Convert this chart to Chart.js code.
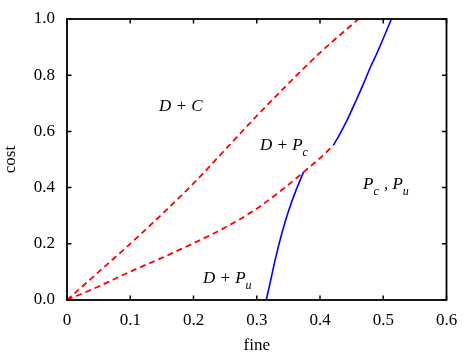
<!DOCTYPE html>
<html>
<head>
<meta charset="utf-8">
<script src="https://cdn.jsdelivr.net/npm/chart.js@4.4.1/dist/chart.umd.min.js"></script>
<style>
  html, body { margin: 0; padding: 0; background: #fff; }
  #wrap { width: 463px; height: 358px; }
</style>
</head>
<body>
<div id="wrap"><canvas id="chart" width="463" height="358"></canvas></div>
<script>
// region boundaries (fine, cost)
const upperFine = [0, 0.05, 0.1, 0.15, 0.2, 0.25, 0.3, 0.35, 0.4, 0.461];
const upperCost = [0, 0.1, 0.2, 0.305, 0.415, 0.535, 0.655, 0.77, 0.88, 1.0];

const lowerFine = [0, 0.05, 0.1, 0.15, 0.2, 0.25, 0.3, 0.35, 0.374, 0.4, 0.421];
const lowerCost = [0, 0.048, 0.101, 0.15, 0.202, 0.258, 0.325, 0.41, 0.455, 0.505, 0.55];

const blueLowFine = [0.315, 0.322, 0.329, 0.34, 0.35, 0.362, 0.374];
const blueLowCost = [0, 0.07, 0.142, 0.24, 0.315, 0.39, 0.455];

const blueHighFine = [0.421, 0.43, 0.443, 0.457, 0.469, 0.48, 0.49, 0.513];
const blueHighCost = [0.55, 0.585, 0.641, 0.71, 0.771, 0.83, 0.878, 1.0];

const xTicks = [0, 0.1, 0.2, 0.3, 0.4, 0.5, 0.6];
const yTicks = [0, 0.2, 0.4, 0.6, 0.8, 1.0];

// region names, anchored at (fine, cost) of the left baseline
const regionLabels = [
  { fine: 0.1456, cost: 0.673, parts: [['D + C', false]] },
  { fine: 0.305, cost: 0.534, parts: [['D + P', false], ['c', true]] },
  { fine: 0.468, cost: 0.395, parts: [['P', false], ['c', true], [' , P', false], ['u', true]] },
  { fine: 0.215, cost: 0.0605, parts: [['D + P', false], ['u', true]] }
];

const serif = "'Liberation Serif', 'DejaVu Serif', serif";

function toPoints(xs, ys) {
  return xs.map((x, i) => ({ x: x, y: ys[i] }));
}

function lineSet(xs, ys, color, dashed) {
  return {
    data: toPoints(xs, ys),
    showLine: true,
    borderColor: color,
    borderWidth: dashed ? 1.8 : 1.6,
    borderDash: dashed ? [6, 4] : [],
    pointRadius: 0,
    fill: false,
    cubicInterpolationMode: 'monotone'
  };
}

// frame with inward ticks, like the original plot
const framePlugin = {
  id: 'frame',
  afterDatasetsDraw(chart) {
    const ctx = chart.ctx;
    const a = chart.chartArea;
    const xs = chart.scales.x;
    const ys = chart.scales.y;
    ctx.save();
    ctx.strokeStyle = '#000';
    ctx.lineWidth = 1.5;
    ctx.beginPath();
    xTicks.forEach(v => {
      const px = xs.getPixelForValue(v);
      ctx.moveTo(px, a.bottom); ctx.lineTo(px, a.bottom - 4.5);
      ctx.moveTo(px, a.top); ctx.lineTo(px, a.top + 4.5);
    });
    yTicks.forEach(v => {
      const py = ys.getPixelForValue(v);
      ctx.moveTo(a.left, py); ctx.lineTo(a.left + 4.5, py);
      ctx.moveTo(a.right, py); ctx.lineTo(a.right - 4.5, py);
    });
    ctx.stroke();
    ctx.lineWidth = 1.8;
    ctx.strokeRect(a.left, a.top, a.right - a.left, a.bottom - a.top);
    ctx.restore();
  }
};

const labelPlugin = {
  id: 'regionLabels',
  afterDatasetsDraw(chart) {
    const ctx = chart.ctx;
    const xs = chart.scales.x;
    const ys = chart.scales.y;
    ctx.save();
    ctx.fillStyle = '#000';
    ctx.textAlign = 'left';
    ctx.textBaseline = 'alphabetic';
    regionLabels.forEach(lab => {
      let px = xs.getPixelForValue(lab.fine);
      const py = ys.getPixelForValue(lab.cost);
      lab.parts.forEach(([txt, sub]) => {
        ctx.font = sub ? 'italic 12px ' + serif : 'italic 17px ' + serif;
        ctx.fillText(txt, px, sub ? py + 6 : py);
        px += ctx.measureText(txt).width + (sub ? 1 : 0);
      });
    });
    ctx.restore();
  }
};

const ctx = document.getElementById('chart').getContext('2d');
new Chart(ctx, {
  type: 'scatter',
  data: {
    datasets: [
      lineSet(upperFine, upperCost, '#ff0000', true),
      lineSet(lowerFine, lowerCost, '#ff0000', true),
      lineSet(blueLowFine, blueLowCost, '#0000ff', false),
      lineSet(blueHighFine, blueHighCost, '#0000ff', false)
    ]
  },
  options: {
    responsive: false,
    animation: false,
    layout: { padding: { left: 0, right: 16.5, top: 19, bottom: 0 } },
    plugins: {
      legend: { display: false },
      tooltip: { enabled: false }
    },
    scales: {
      x: {
        type: 'linear',
        min: 0,
        max: 0.6,
        afterFit: s => { s.height = 58; s.paddingLeft = 0; s.paddingRight = 0; },
        afterBuildTicks: s => { s.ticks = xTicks.map(v => ({ value: v })); },
        grid: { display: false, drawTicks: false },
        border: { display: false },
        ticks: {
          color: '#000',
          padding: 10,
          maxRotation: 0,
          font: { family: serif, size: 17 },
          callback: v => (v === 0 ? '0' : v.toFixed(1))
        },
        title: {
          display: true,
          text: 'fine',
          color: '#000',
          padding: { top: 0, bottom: 2 },
          font: { family: serif, size: 17 }
        }
      },
      y: {
        type: 'linear',
        min: 0,
        max: 1,
        afterFit: s => { s.width = 67; s.paddingTop = 0; s.paddingBottom = 0; },
        afterBuildTicks: s => { s.ticks = yTicks.map(v => ({ value: v })); },
        grid: { display: false, drawTicks: false },
        border: { display: false },
        ticks: {
          color: '#000',
          padding: 12,
          font: { family: serif, size: 17 },
          callback: v => v.toFixed(1)
        },
        title: {
          display: true,
          text: 'cost',
          color: '#000',
          padding: { top: 0, bottom: 0 },
          font: { family: serif, size: 17 }
        }
      }
    }
  },
  plugins: [framePlugin, labelPlugin]
});
</script>
</body>
</html>
